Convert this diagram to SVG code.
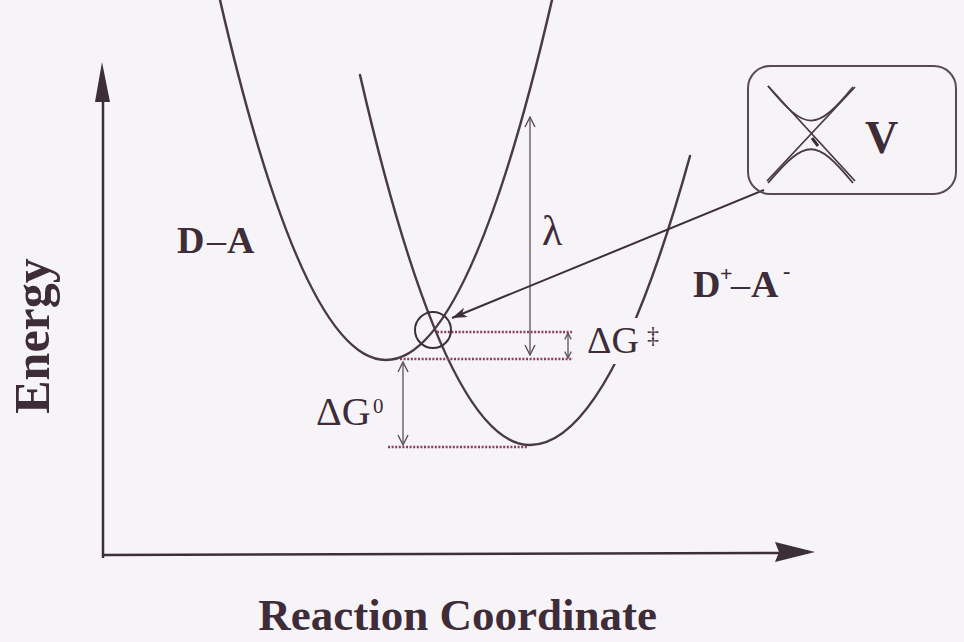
<svg xmlns="http://www.w3.org/2000/svg" width="964" height="642" viewBox="0 0 964 642">
<style>
.curve{fill:none;stroke:#4a3a45;stroke-width:2.5;stroke-linecap:round}
.axis{fill:none;stroke:#3d2f38;stroke-width:2.5}
.dim{fill:none;stroke:#5e5059;stroke-width:1.3}
.dot{fill:none;stroke:#8c3d5e;stroke-width:2.5;stroke-dasharray:2 1.6}
.lbl{font-family:"Liberation Serif","Times New Roman",serif;fill:#3e2c38}
.b{font-weight:bold}
</style>
<defs>
<marker id="ov" viewBox="0 0 12 12" refX="11" refY="6" markerWidth="12" markerHeight="12" markerUnits="userSpaceOnUse" orient="auto-start-reverse">
<path d="M1,1 L11,6 L1,11" fill="none" stroke="#5e5059" stroke-width="1.4"/>
</marker>
<marker id="os" viewBox="0 0 10 10" refX="9" refY="5" markerWidth="8" markerHeight="9" markerUnits="userSpaceOnUse" orient="auto-start-reverse">
<path d="M1,1 L9,5 L1,9" fill="none" stroke="#5e5059" stroke-width="1.6"/>
</marker>
<marker id="fa" viewBox="0 0 16 10" refX="15" refY="5" markerWidth="16" markerHeight="10" markerUnits="userSpaceOnUse" orient="auto">
<path d="M0,0 L15,5 L0,10 L4,5 Z" fill="#3d2f38"/>
</marker>
<mask id="gap" maskUnits="userSpaceOnUse" x="0" y="0" width="964" height="642">
<rect width="964" height="642" fill="#fff"/>
<rect x="584" y="318" width="64" height="46" fill="#000"/>
</mask>
</defs>
<rect width="964" height="642" fill="#f6f4f7"/>

<g id="axes">
<line class="axis" x1="103" y1="98" x2="103" y2="558"/>
<polygon points="102,62 95,102 110,102" fill="#3d2f38"/>
<line class="axis" x1="103" y1="555" x2="780" y2="553"/>
<polygon points="815,552 775,542 779,552 775,562" fill="#3d2f38"/>
</g>

<g id="curve-DA">
<path class="curve" d="M220,0 Q303,360 386,360 Q469,360 552,0"/>
</g>
<g id="curve-DpAm">
<path class="curve" mask="url(#gap)" d="M360,75 Q445,445 530,445 Q610,445 690,156"/>
</g>

<g id="connectors">
<line class="dot" x1="437" y1="332" x2="572" y2="332"/>
<line class="dot" x1="400" y1="359" x2="573" y2="359"/>
<line class="dot" x1="388" y1="447" x2="528" y2="447"/>
<line class="dim" x1="530" y1="117" x2="530" y2="355" marker-start="url(#ov)" marker-end="url(#ov)"/>
<line class="dim" x1="568" y1="333" x2="568" y2="358" marker-start="url(#os)" marker-end="url(#os)"/>
<line class="dim" x1="403" y1="362" x2="403" y2="445" marker-start="url(#ov)" marker-end="url(#ov)"/>
<line x1="764" y1="190" x2="452" y2="318" stroke="#3d2f38" stroke-width="2" marker-end="url(#fa)"/>
</g>

<g id="crossing">
<circle cx="433" cy="330" r="18" fill="none" stroke="#3d2f38" stroke-width="2"/>
</g>

<g id="inset-V">
<rect x="748" y="66" width="208" height="128" rx="22" fill="none" stroke="#5a4a54" stroke-width="2"/>
<path d="M768,86 L855,181 M855,87 L767,181" fill="none" stroke="#4a3a45" stroke-width="1.8"/>
<path d="M768,86 C806,132 816,132 853,87 M768,183 C806,138 816,138 853,183" fill="none" stroke="#4a3a45" stroke-width="1.8"/>
<line x1="812" y1="138" x2="818" y2="146" stroke="#3d2f38" stroke-width="3"/>
<text class="lbl b" x="865" y="153" font-size="46">V</text>
</g>

<g id="labels">
<text class="lbl b" x="177" y="253" font-size="38">D<tspan x="207" font-weight="normal">–</tspan><tspan x="227">A</tspan></text>
<text class="lbl b" x="693" y="297" font-size="38">D<tspan x="720" y="281" font-size="22">+</tspan><tspan x="731" y="297" font-weight="normal">–</tspan><tspan x="751" y="297">A</tspan><tspan x="783" y="278" font-size="22">-</tspan></text>
<text class="lbl" x="542" y="245" font-size="42">λ</text>
<text class="lbl" x="587" y="353" font-size="38">ΔG<tspan x="647" y="343" font-size="24">‡</tspan></text>
<text class="lbl" x="316" y="425" font-size="40">ΔG<tspan x="373" y="413" font-size="21">0</tspan></text>
<text class="lbl b" transform="translate(49,336) rotate(-90)" text-anchor="middle" font-size="50">Energy</text>
<text class="lbl b" x="657" y="630" text-anchor="end" font-size="45">Reaction Coordinate</text>
</g>
</svg>
